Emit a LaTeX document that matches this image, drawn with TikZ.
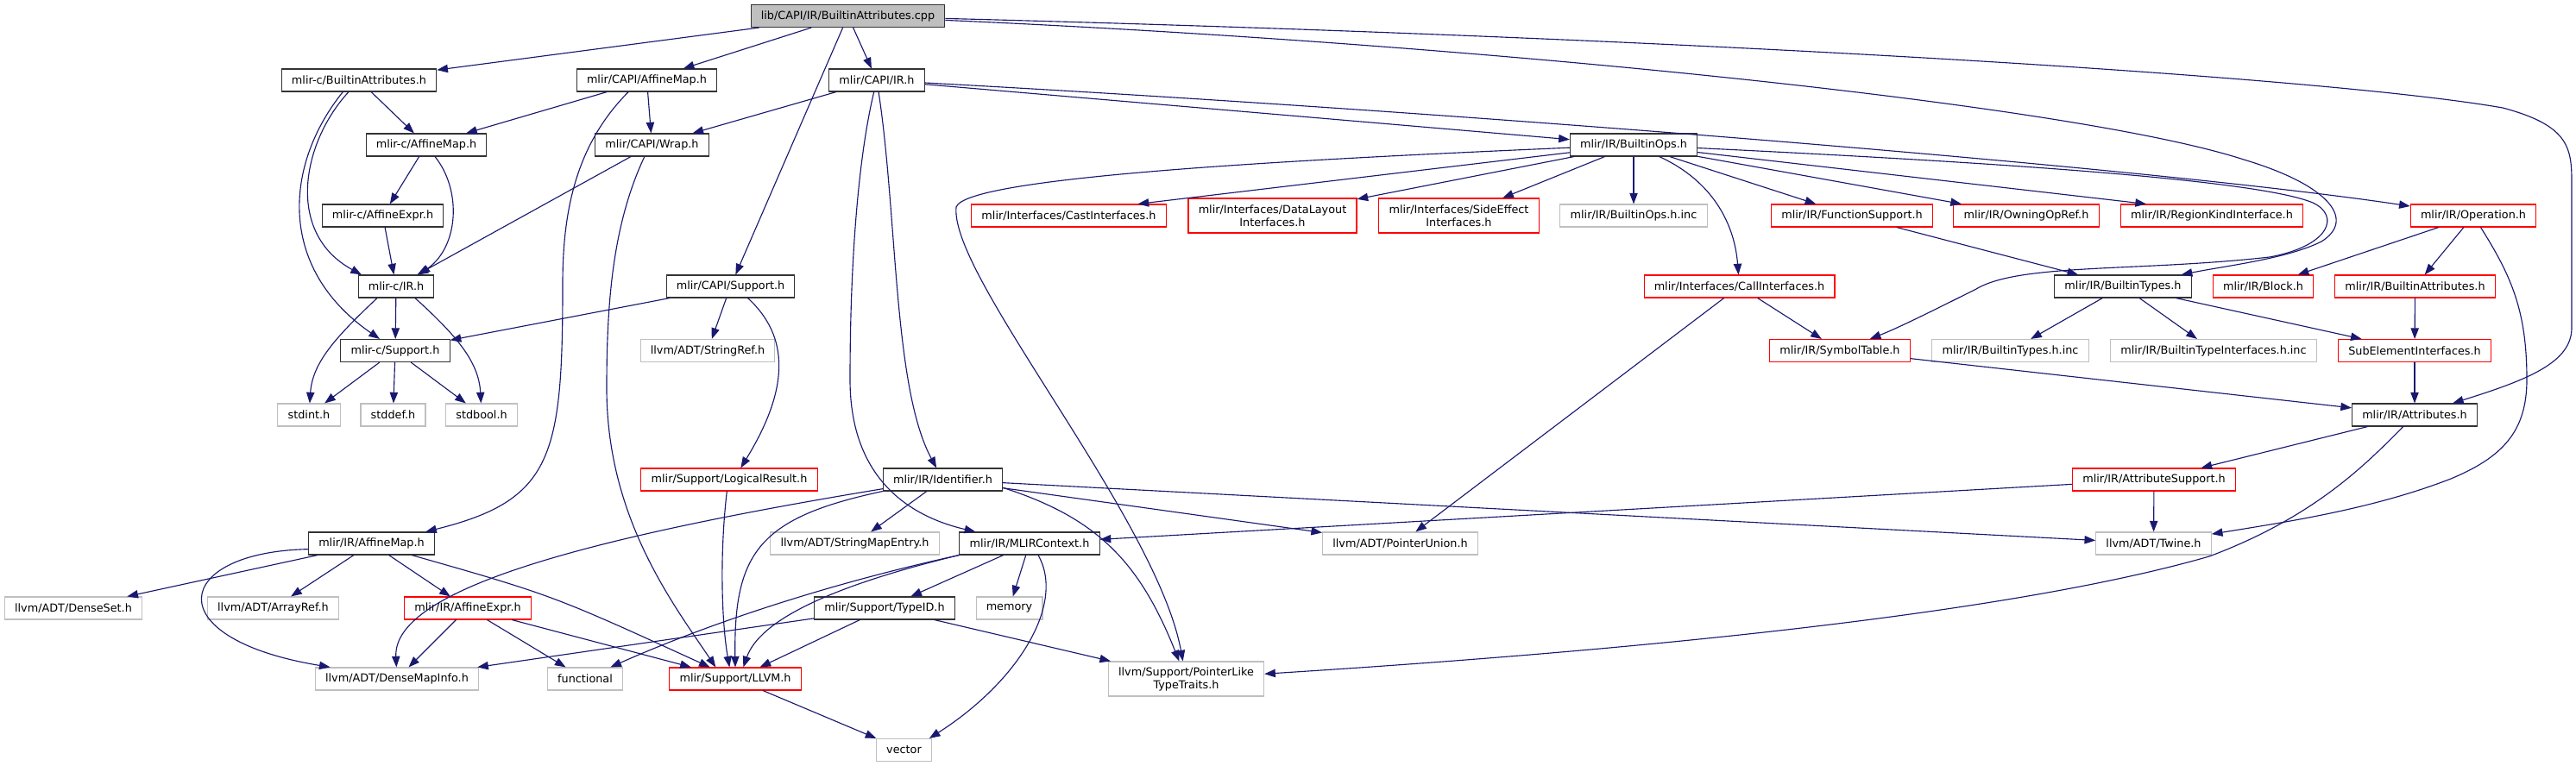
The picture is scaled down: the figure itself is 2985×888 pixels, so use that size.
\documentclass[tikz,border=0pt]{standalone}
\usepackage{fontspec}
\setmainfont{DejaVu Sans}
\usetikzlibrary{arrows.meta}
\definecolor{edgeblue}{HTML}{191970}
\definecolor{sysgray}{HTML}{BFBFBF}
\begin{document}
\begin{tikzpicture}[x=0.75pt, y=-0.75pt,
  every node/.style={font=\fontsize{9.6}{11.3}\selectfont, inner xsep=8.8pt, inner ysep=0pt,
    minimum height=19.5pt, line width=0.8pt, align=center},
  boxed/.style={draw=black!80, fill=white},
  redbox/.style={draw=red, fill=white},
  graybox/.style={draw=sysgray, fill=white},
  rootbox/.style={draw=black!80, fill=sysgray},
  twoline/.style={minimum height=30pt},
  dep/.style={draw=edgeblue, line width=0.85pt, -{Triangle[length=9.5pt,width=7pt]}}]
  \useasboundingbox (0,0) rectangle (2985,888);

  \node[rootbox] (root) at (982.5,18.5) {lib/CAPI/IR/BuiltinAttributes.cpp};

  \node[boxed] (cBuiltinAttr) at (416,93) {mlir-c/BuiltinAttributes.h};
  \node[boxed] (capiAffineMap) at (749.5,93) {mlir/CAPI/AffineMap.h};
  \node[boxed] (capiIR) at (1016,93) {mlir/CAPI/IR.h};

  \node[boxed] (cAffineMap) at (494,168) {mlir-c/AffineMap.h};
  \node[boxed] (capiWrap) at (755.5,168) {mlir/CAPI/Wrap.h};
  \node[boxed] (builtinOps) at (1893,168) {mlir/IR/BuiltinOps.h};

  \node[boxed] (cAffineExpr) at (443.5,250) {mlir-c/AffineExpr.h};
  \node[redbox] (castIf) at (1238.5,250) {mlir/Interfaces/CastInterfaces.h};
  \node[redbox, twoline] (dataLayoutIf) at (1474.5,250) {mlir/Interfaces/DataLayout\\Interfaces.h};
  \node[redbox, twoline] (sideEffectIf) at (1690.5,250) {mlir/Interfaces/SideEffect\\Interfaces.h};
  \node[graybox] (builtinOpsInc) at (1893,250) {mlir/IR/BuiltinOps.h.inc};
  \node[redbox] (functionSupport) at (2146,250) {mlir/IR/FunctionSupport.h};
  \node[redbox] (owningOpRef) at (2348,250) {mlir/IR/OwningOpRef.h};
  \node[redbox] (regionKind) at (2563,250) {mlir/IR/RegionKindInterface.h};
  \node[redbox] (operation) at (2866,250) {mlir/IR/Operation.h};

  \node[boxed] (cIR) at (459,332) {mlir-c/IR.h};
  \node[boxed] (capiSupport) at (846.5,332) {mlir/CAPI/Support.h};
  \node[redbox] (callIf) at (2015.5,332) {mlir/Interfaces/CallInterfaces.h};
  \node[boxed] (builtinTypes) at (2460,332) {mlir/IR/BuiltinTypes.h};
  \node[redbox] (block) at (2622.5,332) {mlir/IR/Block.h};
  \node[redbox] (irBuiltinAttr) at (2798.5,332) {mlir/IR/BuiltinAttributes.h};

  \node[boxed] (cSupport) at (458,406.5) {mlir-c/Support.h};
  \node[graybox] (stringRef) at (820,406.5) {llvm/ADT/StringRef.h};
  \node[redbox] (symbolTable) at (2132,406.5) {mlir/IR/SymbolTable.h};
  \node[graybox] (builtinTypesInc) at (2329.5,406.5) {mlir/IR/BuiltinTypes.h.inc};
  \node[graybox] (typeIfInc) at (2565,406.5) {mlir/IR/BuiltinTypeInterfaces.h.inc};
  \node[redbox] (subElement) at (2798,406.5) {SubElementInterfaces.h};

  \node[graybox] (stdintH) at (358,481) {stdint.h};
  \node[graybox] (stddefH) at (455.5,481) {stddef.h};
  \node[graybox] (stdboolH) at (558,481) {stdbool.h};
  \node[boxed] (attributes) at (2798,481) {mlir/IR/Attributes.h};

  \node[redbox] (logicalResult) at (845,556) {mlir/Support/LogicalResult.h};
  \node[boxed] (identifier) at (1092.5,556) {mlir/IR/Identifier.h};
  \node[redbox] (attrSupport) at (2496,556) {mlir/IR/AttributeSupport.h};

  \node[boxed] (irAffineMap) at (430.5,630) {mlir/IR/AffineMap.h};
  \node[graybox] (stringMapEntry) at (990.5,630) {llvm/ADT/StringMapEntry.h};
  \node[boxed] (mlirContext) at (1193,630) {mlir/IR/MLIRContext.h};
  \node[graybox] (pointerUnion) at (1622.5,630) {llvm/ADT/PointerUnion.h};
  \node[graybox] (twine) at (2495.5,630) {llvm/ADT/Twine.h};

  \node[graybox] (denseSet) at (85,705) {llvm/ADT/DenseSet.h};
  \node[graybox] (arrayRef) at (316.5,705) {llvm/ADT/ArrayRef.h};
  \node[redbox] (irAffineExpr) at (542,705) {mlir/IR/AffineExpr.h};
  \node[boxed] (typeID) at (1025,705) {mlir/Support/TypeID.h};
  \node[graybox] (memoryH) at (1169.5,705) {memory};

  \node[graybox] (denseMapInfo) at (460,787) {llvm/ADT/DenseMapInfo.h};
  \node[graybox] (functionalH) at (678,787) {functional};
  \node[redbox] (llvmH) at (852,787) {mlir/Support/LLVM.h};
  \node[graybox, twoline] (pointerLike) at (1374.5,787) {llvm/Support/PointerLike\\TypeTraits.h};

  \node[graybox] (vectorH) at (1047.5,869.5) {vector};

  \draw[dep] (root) -- (cBuiltinAttr);
  \draw[dep] (root) -- (capiAffineMap);
  \draw[dep] (root) -- (capiIR);
  \draw[dep] (root) -- (capiSupport);
  \draw[dep] (root) .. controls (1700,50) and (2400,120) .. (2600,185) .. controls (2700,215) and (2730,255) .. (2690,280) .. controls (2650,300) and (2580,308) .. (builtinTypes);
  \draw[dep] (root) .. controls (2000,45) and (2700,90) .. (2900,125) .. controls (2975,145) and (2980,170) .. (2980,210) -- (2980,380) .. controls (2980,420) and (2930,440) .. ([xshift=33pt]attributes.north);

  \draw[dep] (cBuiltinAttr) -- (cAffineMap);
  \draw[dep] ([xshift=-9pt]cBuiltinAttr.south) .. controls (350,165) and (330,270) .. ([xshift=-30pt]cIR.north);
  \draw[dep] ([xshift=-14pt]cBuiltinAttr.south) .. controls (330,190) and (320,310) .. ([xshift=-13.5pt]cSupport.north);
  \draw[dep] (capiAffineMap) -- (cAffineMap);
  \draw[dep] (capiAffineMap) -- (capiWrap);
  \draw[dep] ([xshift=-16pt]capiAffineMap.south) .. controls (665,170) and (652,250) .. (652,330) .. controls (652,530) and (640,580) .. ([xshift=47pt]irAffineMap.north);
  \draw[dep] (capiIR) -- (capiWrap);
  \draw[dep] (capiIR) -- (builtinOps);
  \draw[dep] (capiIR) .. controls (1700,130) and (2500,195) .. (operation);
  \draw[dep] (capiIR) .. controls (1040,250) and (1035,450) .. (identifier);
  \draw[dep] (capiIR) .. controls (995,180) and (985,300) .. (985,440) .. controls (985,560) and (1060,600) .. ([xshift=-47pt]mlirContext.north);

  \draw[dep] (cAffineMap) -- (cAffineExpr);
  \draw[dep] ([xshift=7.5pt]cAffineMap.south) .. controls (535,220) and (532,285) .. ([xshift=20pt]cIR.north);
  \draw[dep] (capiWrap) -- (cIR);
  \draw[dep] ([xshift=-6.5pt]capiWrap.south) .. controls (710,260) and (703,350) .. (703,450) .. controls (703,600) and (780,700) .. ([xshift=-17pt]llvmH.north);
  \draw[dep] (cAffineExpr) -- (cIR);
  \draw[dep] (cIR) -- (cSupport);
  \draw[dep] ([xshift=-16.5pt]cIR.south) .. controls (390,390) and (362,420) .. (stdintH);
  \draw[dep] ([xshift=16.5pt]cIR.south) .. controls (530,390) and (555,420) .. (stdboolH);
  \draw[dep] (capiSupport) -- (cSupport);
  \draw[dep] (capiSupport) -- (stringRef);
  \draw[dep] ([xshift=15pt]capiSupport.south) .. controls (915,390) and (915,450) .. ([xshift=10pt]logicalResult.north);
  \draw[dep] (cSupport) -- (stdintH);
  \draw[dep] (cSupport) -- (stddefH);
  \draw[dep] (cSupport) -- (stdboolH);

  \draw[dep] ([xshift=-2pt]logicalResult.south) .. controls (834,640) and (836,720) .. ([xshift=-5pt]llvmH.north);
  \draw[dep] (irAffineMap) -- (denseSet);
  \draw[dep] (irAffineMap) -- (arrayRef);
  \draw[dep] (irAffineMap) -- (irAffineExpr);
  \draw[dep] ([xshift=35pt]irAffineMap.south) .. controls (640,690) .. ([xshift=-22pt]llvmH.north);
  \draw[dep] ([yshift=-5pt]irAffineMap.west) .. controls (200,640) and (180,740) .. ([xshift=-58pt]denseMapInfo.north);
  \draw[dep] (irAffineExpr) -- (denseMapInfo);
  \draw[dep] (irAffineExpr) -- (functionalH);
  \draw[dep] (irAffineExpr) -- (llvmH);
  \draw[dep] (llvmH) -- (vectorH);

  \draw[dep] (identifier) -- (stringMapEntry);
  \draw[dep] (identifier) -- (pointerUnion);
  \draw[dep] (identifier) -- (twine);
  \draw[dep] ([yshift=-7pt]identifier.east) .. controls (1270,600) and (1320,650) .. (pointerLike);
  \draw[dep] ([yshift=-8pt]identifier.west) .. controls (700,620) and (455,680) .. (denseMapInfo);
  \draw[dep] (identifier.south west) .. controls (880,600) and (850,640) .. (llvmH.north);
  \draw[dep] (mlirContext) -- (typeID);
  \draw[dep] (mlirContext) -- (memoryH);
  \draw[dep] ([xshift=7.5pt]mlirContext.south) .. controls (1235,700) and (1180,790) .. ([xshift=22pt]vectorH.north);
  \draw[dep] (mlirContext.south west) .. controls (900,690) and (760,750) .. ([xshift=22pt]functionalH.north);
  \draw[dep] (mlirContext.south west) .. controls (960,680) and (880,720) .. ([xshift=7pt]llvmH.north);
  \draw[dep] (typeID) -- (denseMapInfo);
  \draw[dep] (typeID) -- (llvmH);
  \draw[dep] (typeID) -- (pointerLike);

  \draw[dep] (builtinOps) -- ([xshift=60pt]castIf.north);
  \draw[dep] (builtinOps) -- (dataLayoutIf);
  \draw[dep] (builtinOps) -- (sideEffectIf);
  \draw[dep] (builtinOps) -- (builtinOpsInc);
  \draw[dep] (builtinOps) .. controls (1985,210) and (2010,260) .. (callIf);
  \draw[dep] (builtinOps) -- (functionSupport);
  \draw[dep] (builtinOps) -- (owningOpRef);
  \draw[dep] (builtinOps) -- ([xshift=-57pt]regionKind.north);
  \draw[dep] (builtinOps) .. controls (2350,190) and (2620,210) .. (2680,235) .. controls (2712,250) and (2700,285) .. (2630,298) .. controls (2480,315) and (2340,305) .. (2290,335) .. controls (2240,360) and (2200,380) .. (symbolTable);
  \draw[dep] (builtinOps) .. controls (1500,185) and (1120,205) .. (1108,240) .. controls (1100,320) and (1340,600) .. (pointerLike);

  \draw[dep] (functionSupport) -- (builtinTypes);
  \draw[dep] (operation) -- (block);
  \draw[dep] (operation) -- (irBuiltinAttr);
  \draw[dep] (operation) .. controls (2910,320) and (2928,360) .. (2928,440) .. controls (2928,500) and (2900,530) .. (2840,555) .. controls (2750,590) and (2650,605) .. (twine);
  \draw[dep] (callIf) -- (symbolTable);
  \draw[dep] (callIf) -- (pointerUnion);
  \draw[dep] (builtinTypes) -- (builtinTypesInc);
  \draw[dep] (builtinTypes) -- (typeIfInc);
  \draw[dep] (builtinTypes) -- (subElement);
  \draw[dep] (irBuiltinAttr) -- (subElement);
  \draw[dep] (subElement) -- (attributes);
  \draw[dep] (symbolTable) -- (attributes);
  \draw[dep] (attributes) -- (attrSupport);
  \draw[dep] (attributes) .. controls (2740,540) and (2680,600) .. (2560,645) .. controls (2300,720) and (1800,760) .. (pointerLike);
  \draw[dep] (attrSupport) -- (mlirContext);
  \draw[dep] (attrSupport) -- (twine);
\end{tikzpicture}
\end{document}
